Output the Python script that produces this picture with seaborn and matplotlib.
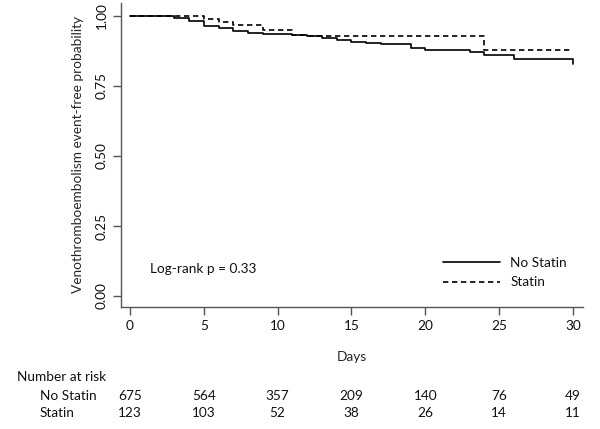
import matplotlib
matplotlib.use("Agg")
import matplotlib.pyplot as plt
import matplotlib.transforms as mtransforms
import seaborn as sns
import pandas as pd
from matplotlib.lines import Line2D

# ---- data ----
days_no_statin = [0, 3, 4, 5, 6, 7, 8, 9, 10, 11, 12, 13, 14, 15, 16, 17, 19, 20, 23, 24, 26, 30]
surv_no_statin = [1.0, 0.994, 0.981, 0.964, 0.955, 0.945, 0.940, 0.937, 0.934, 0.932, 0.928,
                  0.920, 0.913, 0.907, 0.903, 0.899, 0.885, 0.879, 0.871, 0.862, 0.847, 0.829]
days_statin = [0, 5, 6, 7, 9, 11, 12, 24, 30]
surv_statin = [1.0, 0.988, 0.979, 0.966, 0.949, 0.932, 0.928, 0.878, 0.878]

groups = ["No Statin", "Statin"]
x_ticks = [0, 5, 10, 15, 20, 25, 30]
y_ticks = [0.0, 0.25, 0.5, 0.75, 1.0]
y_tick_labels = ["0.00", "0.25", "0.50", "0.75", "1.00"]
risk_no_statin = [675, 564, 357, 209, 140, 76, 49]
risk_statin = [123, 103, 52, 38, 26, 14, 11]

df = pd.concat([
    pd.DataFrame({"day": days_no_statin, "surv": surv_no_statin, "group": groups[0]}),
    pd.DataFrame({"day": days_statin, "surv": surv_statin, "group": groups[1]}),
], ignore_index=True)

sns.set_theme(style="white")
plt.rcParams["font.family"] = ["Lato", "DejaVu Sans"]
plt.rcParams["text.color"] = "#111111"
FS = 9.8

W, H = 600, 429
fig = plt.figure(figsize=(W / 100, H / 100), dpi=100)
left, right, bottom, top = 120.7, 583, 306.7, 3
ax = fig.add_axes([left / W, 1 - bottom / H, (right - left) / W, (bottom - top) / H])

sns.lineplot(data=df, x="day", y="surv", style="group", style_order=groups,
             dashes={"No Statin": "", "Statin": (3.2, 2.2)},
             color="black", linewidth=1.2, drawstyle="steps-post",
             estimator=None, sort=False, legend=False, ax=ax)

ax.set_xlim(-0.63, 30.68)
ax.set_ylim(-0.038, 1.046)
ax.set_xticks(x_ticks)
ax.set_xticklabels([str(v) for v in x_ticks], fontsize=FS)
ax.set_yticks(y_ticks)
ax.set_yticklabels(y_tick_labels, fontsize=FS, rotation=90, va="center")
for s in ["top", "right"]:
    ax.spines[s].set_visible(False)
for s in ["left", "bottom"]:
    ax.spines[s].set_color("#555555")
    ax.spines[s].set_linewidth(1.0)
ax.tick_params(axis="both", which="major", direction="out", length=5.5, width=1.0,
               color="#555555", labelcolor="#111111", bottom=True, left=True)
ax.tick_params(axis="x", pad=4)
ax.tick_params(axis="y", pad=4)
ax.set_xlabel("Days", fontsize=FS, labelpad=14)
ax.set_ylabel("Venothromboembolism event-free probability", fontsize=FS, labelpad=8)

ax.text(1.35, 0.098, "Log-rank p = 0.33", fontsize=FS, va="center", ha="left")

handles = [Line2D([], [], color="black", lw=1.2),
           Line2D([], [], color="black", lw=1.2, dashes=(3.2, 2.2))]
ax.legend(handles, groups, loc="upper left",
          bbox_to_anchor=(443 / W, 1 - 257 / H), bbox_transform=fig.transFigure,
          frameon=False, fontsize=FS, handlelength=4.2, handletextpad=0.75,
          borderpad=0, borderaxespad=0, labelspacing=0.55)

# Number at risk table
trans = mtransforms.blended_transform_factory(ax.transData, fig.transFigure)
fig.text(17 / W, 1 - 377 / H, "Number at risk", fontsize=FS, va="center", ha="left")
fig.text(40 / W, 1 - 396 / H, groups[0], fontsize=FS, va="center", ha="left")
fig.text(40 / W, 1 - 413 / H, groups[1], fontsize=FS, va="center", ha="left")
for xv, a, b in zip(x_ticks, risk_no_statin, risk_statin):
    ax.text(xv, 1 - 396 / H, str(a), transform=trans, fontsize=FS, ha="center", va="center",
            clip_on=False)
    ax.text(xv, 1 - 413 / H, str(b), transform=trans, fontsize=FS, ha="center", va="center",
            clip_on=False)

fig.savefig("out.png", dpi=100)
